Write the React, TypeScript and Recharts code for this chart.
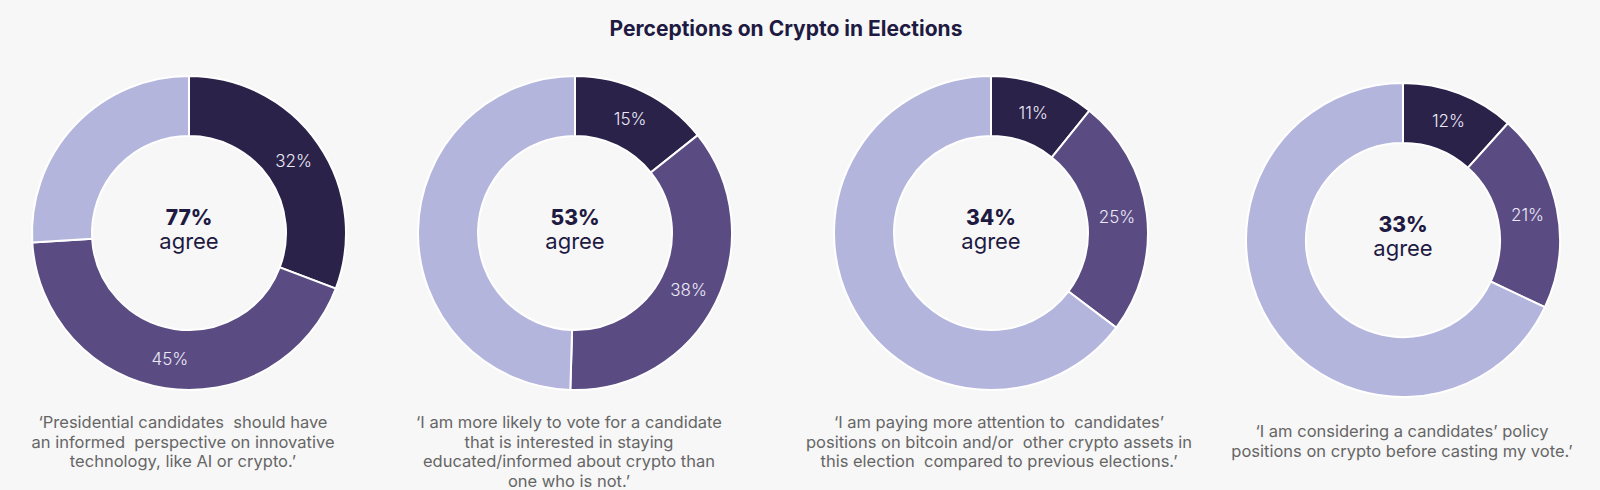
import React from 'react';
import { PieChart, Pie, Cell } from 'recharts';

const title = 'Perceptions on Crypto in Elections';
const sliceNames = ['Strongly agree', 'Somewhat agree', 'Other'];
const agreeTotals = [77, 53, 34, 33];
const stronglyAgree = [32, 15, 11, 12];
const somewhatAgree = [45, 38, 25, 21];
const otherShare = [27, 52, 66, 70];
const captions: string[][] = [
  ['‘Presidential candidates  should have', 'an informed  perspective on innovative', 'technology, like AI or crypto.’'],
  ['‘I am more likely to vote for a candidate', 'that is interested in staying', 'educated/informed about crypto than', 'one who is not.’'],
  ['‘I am paying more attention to  candidates’', 'positions on bitcoin and/or  other crypto assets in', 'this election  compared to previous elections.’'],
  ['‘I am considering a candidates’ policy', 'positions on crypto before casting my vote.’'],
];

const COLORS = ['#2a2249', '#5a4c83', '#b4b5dd'];
const W = 1600;
const H = 490;
const centers = [
  { cx: 189, cy: 233 },
  { cx: 575, cy: 233 },
  { cx: 991, cy: 233 },
  { cx: 1403, cy: 240 },
];
const captionPos = [
  { x: 183, y: 428 },
  { x: 569, y: 428 },
  { x: 999, y: 428 },
  { x: 1402, y: 437 },
];
const OUTER = 157;
const INNER = 97;
const FONT = "Inter, 'Noto Sans', sans-serif";
const RAD = Math.PI / 180;

const renderLabel = (props: any) => {
  const { cx, cy, midAngle, innerRadius, outerRadius, value, index } = props;
  if (index === 2) return null;
  const r = (innerRadius + outerRadius) / 2;
  const x = cx + r * Math.cos(-midAngle * RAD);
  const y = cy + r * Math.sin(-midAngle * RAD);
  return (
    <text x={x} y={y} fill="#ece9f7" textAnchor="middle" dominantBaseline="central"
      fontFamily={FONT} fontSize={17} fontWeight={300}>
      {`${value}%`}
    </text>
  );
};

export default function App() {
  const datasets = agreeTotals.map((_, i) => [
    { name: sliceNames[0], value: stronglyAgree[i] },
    { name: sliceNames[1], value: somewhatAgree[i] },
    { name: sliceNames[2], value: otherShare[i] },
  ]);
  return (
    <div style={{ position: 'relative', width: W, height: H, background: '#f7f7f7', margin: 0 }}>
      <style>{'body{margin:0;background:#f7f7f7}'}</style>
      <PieChart width={W} height={H} margin={{ top: 0, right: 0, bottom: 0, left: 0 }}>
        {datasets.map((d, i) => (
          <Pie key={i} data={d} dataKey="value" nameKey="name" cx={centers[i].cx} cy={centers[i].cy}
            innerRadius={INNER} outerRadius={OUTER} startAngle={90} endAngle={-270}
            stroke="#ffffff" strokeWidth={2} isAnimationActive={false}
            label={renderLabel} labelLine={false}>
            {d.map((_, j) => (
              <Cell key={j} fill={COLORS[j]} />
            ))}
          </Pie>
        ))}
      </PieChart>
      <svg width={W} height={H} style={{ position: 'absolute', left: 0, top: 0, pointerEvents: 'none' }}>
        <text x={786} y={36} textAnchor="middle" fontFamily={FONT} fontSize={21} fontWeight={700} fill="#1f1a42">
          {title}
        </text>
        {agreeTotals.map((t, i) => (
          <g key={i}>
            <text x={centers[i].cx} y={centers[i].cy - 8} textAnchor="middle" fontFamily={FONT}
              fontSize={21} fontWeight={800} fill="#1f1a42">{`${t}%`}</text>
            <text x={centers[i].cx} y={centers[i].cy + 16} textAnchor="middle" fontFamily={FONT}
              fontSize={22} fontWeight={400} fill="#1f1a42">agree</text>
          </g>
        ))}
        {captions.map((lines, i) => (
          <g key={i}>
            {lines.map((ln, k) => (
              <text key={k} x={captionPos[i].x} y={captionPos[i].y + k * 19.7} textAnchor="middle"
                fontFamily={FONT} fontSize={16.5} fontWeight={400} fill="#666666" style={{ whiteSpace: 'pre' }}>
                {ln}
              </text>
            ))}
          </g>
        ))}
      </svg>
    </div>
  );
}
